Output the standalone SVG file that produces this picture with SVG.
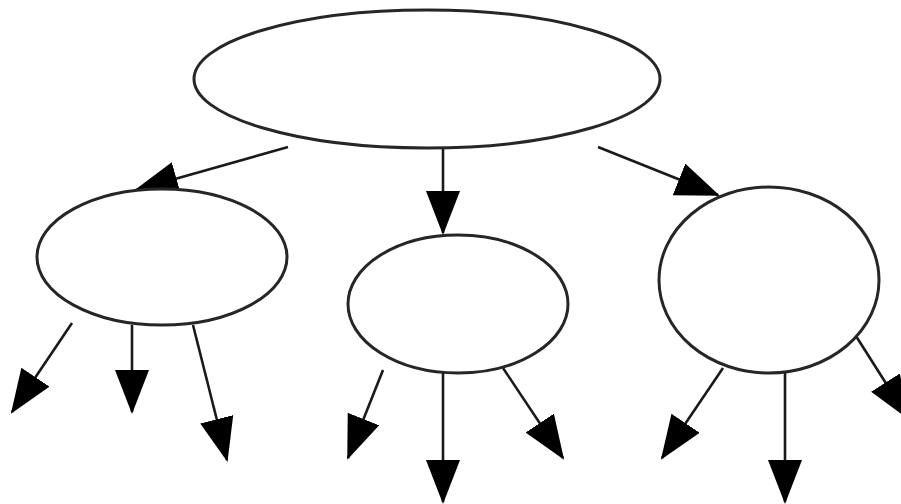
<svg xmlns="http://www.w3.org/2000/svg" width="901" height="504" viewBox="0 0 901 504">
<style>
.node{fill:#fff;stroke:#262626;stroke-width:3}
.edge{stroke:#1a1a1a;stroke-width:2.6;fill:none;marker-end:url(#ah)}
</style>
<defs>
<marker id="ah" markerUnits="userSpaceOnUse" markerWidth="44" markerHeight="36" refX="42" refY="17" orient="auto">
<path d="M0,0 L44,17 L0,34 z" fill="#000"/>
</marker>
</defs>
<rect width="901" height="504" fill="#fff"/>
<g id="connectors">
<line class="edge" x1="288" y1="147" x2="136" y2="190"/>
<line class="edge" x1="443" y1="148" x2="443" y2="233"/>
<line class="edge" x1="598" y1="147" x2="718" y2="195"/>
<line class="edge" x1="72" y1="323" x2="12" y2="412"/>
<line class="edge" x1="132" y1="325" x2="132" y2="412"/>
<line class="edge" x1="193" y1="325" x2="227" y2="460"/>
<line class="edge" x1="383" y1="370" x2="348" y2="458"/>
<line class="edge" x1="443" y1="373" x2="443" y2="502"/>
<line class="edge" x1="503" y1="368" x2="563" y2="458"/>
<line class="edge" x1="723" y1="368" x2="662" y2="458"/>
<line class="edge" x1="785" y1="373" x2="785" y2="502"/>
<line class="edge" x1="849" y1="325" x2="908" y2="418"/>
</g>
<g id="root"><ellipse class="node" cx="427" cy="79" rx="233" ry="69"/></g>
<g id="left"><ellipse class="node" cx="162" cy="257" rx="125" ry="68"/></g>
<g id="middle"><ellipse class="node" cx="458" cy="304" rx="110" ry="69"/></g>
<g id="right"><ellipse class="node" cx="769" cy="280" rx="110" ry="93"/></g>
</svg>
